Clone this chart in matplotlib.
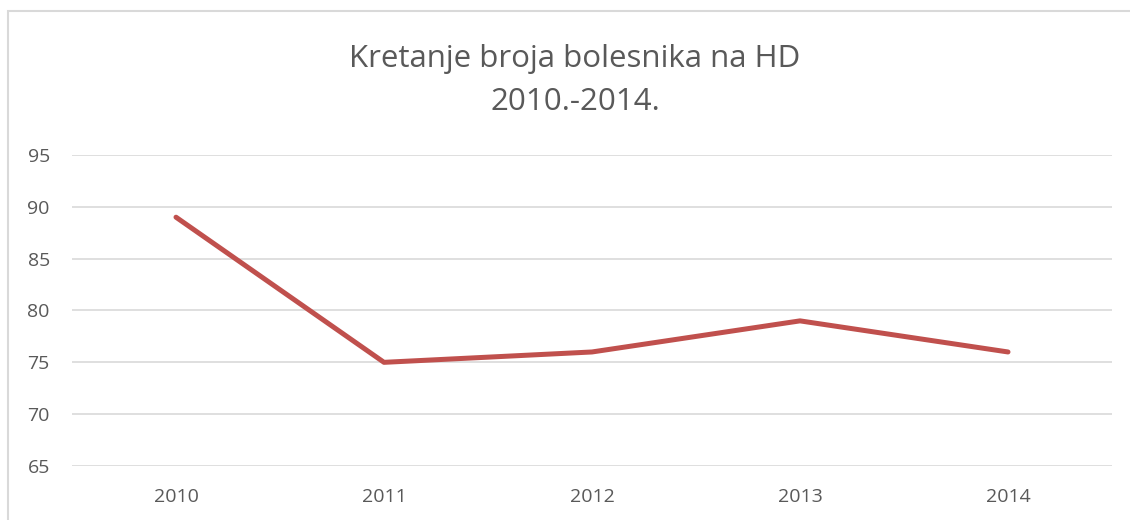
import matplotlib.pyplot as plt
from matplotlib.patches import Rectangle

# chart data
years = ["2010", "2011", "2012", "2013", "2014"]
patients = [89, 75, 76, 79, 76]
y_ticks = [65, 70, 75, 80, 85, 90, 95]

plt.rcParams['font.family'] = ['Open Sans', 'DejaVu Sans']

fig = plt.figure(figsize=(11.3, 5.2), dpi=100)
ax = fig.add_axes([72 / 1130, 1 - 466 / 520, 1040 / 1130, 311 / 520])

# outer chart border (right and bottom edges fall outside the image)
fig.patches.append(Rectangle((8 / 1130, -0.5), 2.0, 1 - 11 / 520 + 0.5,
                             transform=fig.transFigure, fill=False,
                             edgecolor='#d9d9d9', linewidth=1.5))

x = range(len(years))
ax.plot(x, patients, color='#c0504d', linewidth=3.6, solid_capstyle='round', zorder=3)

ax.set_xlim(-0.5, len(years) - 0.5)
ax.set_ylim(65, 95)
ax.set_xticks(list(x))
ax.set_xticklabels(years)
ax.set_yticks(y_ticks)
ax.yaxis.grid(True, color='#d9d9d9', linewidth=1.2)
ax.set_axisbelow(True)
for s in ax.spines.values():
    s.set_visible(False)
ax.tick_params(axis='both', length=0, labelsize=14, labelcolor='#595959')
ax.tick_params(axis='y', pad=16)
ax.tick_params(axis='x', pad=16)

fig.text(575 / 1130, 1 - 59 / 520, "Kretanje broja bolesnika na HD", ha='center', va='center',
         fontsize=22.5, color='#595959')
fig.text(575 / 1130, 1 - 102 / 520, "2010.-2014.", ha='center', va='center',
         fontsize=22.5, color='#595959')

fig.savefig('out.png', dpi=100)
